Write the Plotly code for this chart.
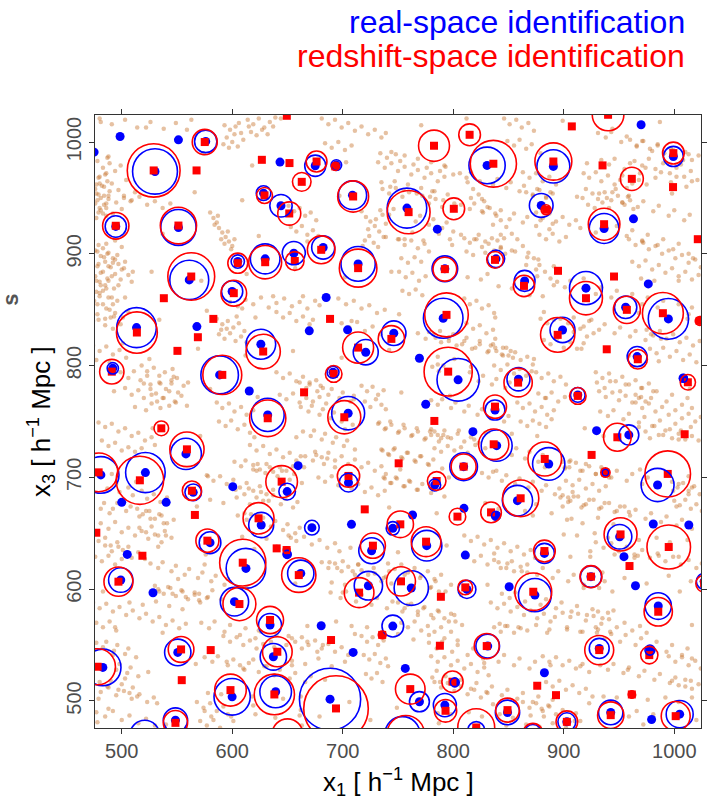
import math
import plotly.graph_objects as go

# ---------------- void catalogues ----------------
# real-space voids: centre x1, centre x3, radius (0 = centre only)
real_x = [498.5, 475.0, 551.3, 576.0, 530.1, 643.2, 675.1, 694.2, 628.3, 644.1, 708.8, 494.6, 551.3,
          561.1, 605.0, 629.8, 655.7, 682.3, 713.9, 599.9, 685.0, 568.0, 513.4, 669.7, 704.4, 625.9,
          720.8, 491.9, 588.6, 691.2, 615.4,
          830.6, 890.6, 970.0, 999.2, 758.1, 785.6, 879.6, 936.5, 963.1, 838.7, 792.4, 864.6, 920.1,
          976.5, 956.0, 994.7, 769.4, 804.4, 790.9, 898.9, 966.4, 1008.2, 859.0, 912.7, 775.1,
          632.1, 704.9, 558.1, 481.1, 521.4, 500.0, 540.2, 564.7, 600.5, 649.7, 705.2, 659.6, 707.9,
          672.1, 626.2, 579.9, 649.7, 612.4, 662.0, 499.1, 505.0, 528.3, 602.0, 723.2, 726.1, 634.2,
          680.5, 709.4, 550.7, 637.2, 482.9, 599.9, 639.3, 688.5, 548.6, 520.8,
          837.8, 817.8, 929.7, 958.9, 839.3, 809.4, 886.4, 937.7, 984.9, 783.2, 858.1, 838.7, 809.7,
          763.2, 776.0, 810.9, 882.5, 950.6, 981.0, 1013.2, 954.5, 924.6, 964.9, 1027.0, 762.0, 812.4,
          850.6, 873.9, 985.5, 831.2, 932.1, 978.0, 756.6, 882.5, 801.4, 769.4, 792.4, 849.1, 902.8,
          942.5, 979.5, 1004.9, 820.8, 872.1, 754.0, 745.3, 746.2, 745.3]
real_y = [1005.0, 991.0, 1002.0, 1000.6, 973.7, 982.1, 978.8, 979.4, 954.3, 943.0, 952.5, 924.5, 923.6,
          876.7, 893.1, 895.5, 900.6, 905.7, 891.0, 866.3, 860.9, 834.9, 834.0, 831.1, 832.0, 819.1,
          812.0, 797.6, 791.7, 794.1, 777.3,
          979.1, 978.2, 1015.5, 987.1, 940.9, 922.1, 943.3, 922.7, 931.3, 895.5, 886.6, 875.8, 869.3,
          873.1, 852.2, 841.8, 806.6, 787.3, 842.4, 831.9, 808.1, 788.7, 787.8, 773.8, 765.4,
          755.9, 757.4, 721.0, 702.2, 704.3, 677.7, 677.7, 686.6, 691.7, 687.3, 695.3, 710.5, 658.0,
          655.0, 657.4, 641.6, 631.1, 618.6, 614.1, 608.2, 631.1, 596.8, 588.8, 603.1, 634.4, 567.9,
          567.3, 543.4, 543.4, 539.5, 530.0, 503.7, 508.2, 501.6, 482.8, 469.4,
          760.3, 740.9, 741.8, 738.0, 728.4, 709.6, 712.0, 704.3, 693.2, 693.2, 679.2, 665.7, 672.3,
          666.4, 638.9, 630.5, 632.0, 646.9, 658.3, 657.4, 629.1, 611.2, 603.1, 607.0, 601.0, 599.8,
          602.2, 594.7, 584.9, 549.1, 547.0, 545.5, 529.1, 525.2, 516.6, 499.3, 496.3, 489.7, 481.3,
          489.7, 483.4, 488.2, 474.0, 470.9, 470.0, 567.0, 829.0, 654.4]
real_r = [0, 0, 0, 10.1, 20.3, 0, 9.5, 4.8, 6.6, 10.1, 12.8, 9.6, 16.0,
          17.6, 6.0, 13.4, 10.4, 10.4, 15.5, 9.6, 0, 0, 17.9, 0, 0, 13.4,
          11.3, 5.1, 17.0, 5.4, 0,
          16.4, 14.9, 0, 9.0, 17.9, 0, 10.7, 13.4, 0, 7.8, 11.6, 9.4, 14.9,
          0, 10.1, 18.2, 0, 19.1, 17.9, 11.3, 9.0, 3.6, 10.4, 6.6, 0,
          14.9, 14.9, 14.0, 16.4, 17.9, 0, 0, 7.5, 0, 7.5, 8.4, 0, 0,
          6.6, 11.3, 9.8, 3.6, 17.9, 11.9, 11.0, 0, 0, 12.8, 12.8, 11.6, 10.4,
          0, 0, 11.9, 11.9, 16.4, 16.4, 14.3, 27.7, 11.0, 13.4,
          9.0, 0, 0, 9.0, 14.0, 12.5, 14.6, 3.0, 14.9, 5.4, 13.7, 4.0, 0,
          0, 13.7, 0, 9.0, 11.0, 0, 0, 0, 9.6, 0, 7.0, 15.5, 8.1,
          0, 14.9, 11.9, 10.7, 9.0, 4.5, 0, 0, 4.0, 9.0, 10.4, 11.0, 8.1,
          11.0, 0, 12.2, 7.5, 8.0, 16.0, 9.8, 11.0, 6.0]

# redshift-space voids
zsp_x = [575.1, 528.9, 567.7, 626.8, 651.8, 676.3, 693.3, 662.9, 629.2, 651.6, 709.4, 494.6, 551.3,
         562.9, 605.0, 629.8, 656.6, 680.5, 713.9, 601.4, 538.1, 582.9, 688.5, 568.9, 550.4, 513.7,
         628.0, 713.9, 491.0, 591.0, 691.8, 665.0, 649.4,
         782.6, 814.8, 836.3, 890.6, 907.3, 940.1, 935.1, 999.2, 961.6, 998.9, 759.6, 800.5, 884.0,
         936.5, 1021.3, 837.8, 792.4, 864.0, 894.8, 945.5, 920.1, 957.1, 989.7, 1023.0, 795.4, 793.9,
         894.5, 938.9, 967.0, 1012.3, 858.7, 912.7,
         632.1, 701.4, 535.8, 559.0, 479.1, 516.4, 563.5, 566.2, 644.7, 705.2, 719.9, 623.8, 577.5,
         640.2, 649.2, 609.5, 660.2, 497.0, 518.7, 606.5, 714.8, 727.3, 634.2, 689.4, 553.7, 580.5,
         554.3, 640.8, 478.2, 598.4, 638.1, 693.9, 548.6, 650.0, 477.0, 735.7,
         837.8, 782.9, 948.5, 1009.4, 925.2, 836.6, 809.4, 882.8, 937.7, 994.1, 785.0, 861.0, 834.2,
         803.8, 752.1, 775.4, 882.5, 951.4, 995.0, 959.5, 924.6, 1027.0, 752.7, 810.9, 872.4, 788.8,
         985.5, 830.3, 787.9, 932.1, 977.4, 799.3, 876.0, 893.0, 961.6, 761.1, 793.0, 849.1, 902.8,
         942.5, 1001.3, 820.8, 872.1, 757.0, 750.6, 744.0]
zsp_y = [1000.0, 974.6, 974.6, 984.1, 981.2, 982.6, 978.2, 964.4, 952.2, 936.1, 951.3, 925.1, 925.3,
         879.7, 891.6, 892.5, 893.6, 903.6, 887.2, 864.8, 860.3, 841.8, 841.8, 825.4, 813.2, 829.6,
         812.6, 816.1, 794.6, 791.7, 792.6, 776.1, 1023.5,
         996.7, 1006.5, 980.6, 982.6, 1014.0, 1024.4, 979.1, 990.1, 967.1, 959.7, 937.3, 940.3, 939.4,
         926.5, 913.1, 894.6, 886.3, 871.3, 884.8, 879.7, 860.3, 849.9, 846.9, 840.0, 794.6, 845.4,
         827.5, 814.6, 805.7, 785.1, 784.8, 772.9,
         752.9, 753.8, 743.9, 725.1, 704.5, 697.4, 688.1, 666.4, 696.2, 701.3, 671.4, 663.4, 643.4,
         636.5, 635.0, 623.7, 612.6, 606.7, 629.9, 586.7, 596.9, 638.9, 572.4, 554.5, 546.1, 545.5,
         518.6, 544.0, 530.6, 509.7, 505.8, 493.3, 480.4, 470.0, 650.5, 559.1,
         763.3, 750.5, 735.9, 738.6, 720.1, 729.6, 709.6, 716.5, 704.3, 703.1, 696.8, 681.3, 668.7,
         664.9, 658.0, 642.5, 634.1, 649.0, 637.7, 620.7, 611.2, 605.0, 607.0, 601.6, 597.7, 593.2,
         579.8, 549.1, 549.4, 545.5, 541.0, 517.2, 513.6, 505.2, 505.8, 510.6, 491.2, 491.8, 481.3,
         487.3, 486.4, 476.3, 470.9, 470.0, 712.6, 823.9]
zsp_r = [11.3, 23.9, 0, 0, 0, 9.4, 3.6, 8.4, 7.2, 10.4, 14.0, 11.9, 16.4,
         21.2, 9.0, 14.9, 8.4, 12.5, 17.0, 11.6, 0, 0, 0, 0, 0, 18.5,
         15.5, 14.0, 11.0, 17.6, 7.5, 0, 0,
         14.0, 9.8, 20.9, 16.7, 0, 14.3, 0, 9.8, 10.4, 0, 19.4, 9.8, 4.5,
         14.3, 0, 7.5, 10.7, 9.6, 0, 0, 14.9, 12.2, 18.5, 4.0, 21.8, 19.7,
         15.5, 0, 8.7, 6.9, 12.8, 7.5,
         16.4, 14.9, 6.6, 15.5, 17.3, 21.5, 8.7, 0, 14.3, 10.1, 0, 14.0, 10.4,
         2.5, 3.0, 20.9, 15.5, 13.1, 0, 14.9, 13.4, 11.3, 12.2, 0, 11.6, 0,
         0, 13.4, 16.1, 14.3, 18.2, 29.2, 11.0, 14.0, 0, 3.5,
         10.4, 0, 12.5, 0, 0, 13.7, 11.3, 15.2, 4.2, 20.6, 8.4, 16.4, 9.3,
         7.5, 11.9, 13.4, 9.8, 14.9, 19.7, 0, 9.9, 7.5, 13.1, 6.6, 16.7, 0,
         12.8, 11.3, 0, 13.1, 7.8, 9.6, 0, 0, 3.3, 13.4, 10.1, 10.7, 9.8,
         11.9, 13.1, 16.7, 9.0, 17.0, 0, 11.9]

# ---------------- tracer particles (x1,x3 pairs) ----------------
sparse_field = """
481,1018 522,1013 563,1020 644,1021 771,1015 812,1021 899,1019 944,1012 987,1018
488,987 574,990 618,979 703,982 748,989 793,978 879,990 921,981 1006,980
479,953 566,955 609,948 697,952 781,956 826,949 912,951 953,946 998,954
494,912 537,918 624,916 668,911 756,913 799,908 843,917 929,919 972,910
527,884 572,876 613,882 657,887 702,879 744,884 831,882 875,886 918,878 1004,876
534,841 577,849 621,843 708,840 751,846 838,843 882,848 925,841 968,847 1012,842
525,806 569,815 612,809 655,813 699,807 742,814 786,808 873,806 916,815 959,809
493,777 580,779 623,772 710,770 753,776 797,773 884,771 970,772 1014,779
528,744 571,737 658,736 702,743 789,735 832,741 876,737 919,744 1006,742
491,703 578,701 622,706 665,709 752,707 796,700 839,706 883,709 969,707 1013,701
481,672 568,674 611,668 742,673 785,668 872,666 916,673 959,669 1002,674
533,638 576,631 620,636 707,637 750,633 794,639 837,632 924,634 967,630
483,598 570,596 613,601 657,605 700,597 787,598 831,604 874,596 918,601 1005,598
494,566 537,561 624,563 668,567 711,560 798,562 842,569 885,561 929,566 1016,568
480,531 524,526 567,533 611,528 654,532 741,531 785,527 828,534 915,531 958,528
488,493 532,498 575,491 619,496 662,492 706,499 749,494 836,497 880,493 923,498 966,491
478,481 540,479 601,482 663,478 725,483 787,480 848,478 910,482 972,479 1020,483
"""

web_west = """
477,932 483,936 480,941 486,945 478,948 484,952 489,956 476,958 482,961 487,965 479,968 485,971 481,939 488,949 477,954 484,944 480,963 486,934
474,912 479,908 483,905 476,903 488,901 481,898 492,896 485,893 497,891 478,889 490,888 502,887 483,884 494,882 506,881 476,880 487,878 499,877 509,875 480,875 492,892 503,893 473,896 486,909 496,899 510,884 500,906
474,878 481,872 477,866 486,869 491,861 475,858 483,855 489,850 478,846 485,842 493,844 474,840 480,862 488,876 492,855
593,1015 598,1011 603,1014 608,1008 595,1004 600,1000 605,996 610,1002 597,995 602,1007 606,1017 592,998
614,1020 619,1016 624,1021 629,1013 634,1018 617,1009 622,1006 627,1011 632,1007 637,1014 615,1014 639,1022
580,937 583,932 586,928 588,923 591,919 594,915 597,911 600,907 584,926 590,913 596,920 599,904 587,934 593,909 602,913
717,938 721,933 725,929 729,925 733,920 737,915 720,912 724,916 728,910 732,906 736,935 739,927 723,922 730,931 718,907
598,857 605,853 612,859 619,855 626,861 633,852 640,856 647,860 654,853 661,857 668,851 675,858 679,854 609,851 637,862 664,862
586,842 591,837 596,840 601,834 606,838 611,831 588,828 593,824 598,829 603,822 608,826 613,821 595,833 604,844 590,832
518,800 523,795 529,798 534,791 539,794 545,787 550,789 556,782 560,785 520,784 526,779 531,775 537,771 543,777 548,768 554,773 559,764 535,784 546,797 527,766
717,782 722,777 727,781 732,774 737,778 720,768 725,763 730,770 735,765 739,761
696,860 703,855 710,858 717,851 724,854 731,847 738,850 699,838 706,834 713,839 720,831 727,835 734,828
651,943 656,938 661,941 666,934 671,937 676,930 653,924 658,920 663,925 668,917 673,921 678,916
640,794 646,789 652,793 658,786 664,790 670,783 676,787 682,780 643,774 649,770 655,775 661,767 667,771 673,768 679,772 685,766
681,1021 687,1016 693,1020 699,1013 705,1017 711,1010 717,1014 723,1007 729,1011 735,1004 739,1008 684,999 690,995 696,1000 702,993 708,997
502,952 509,948 516,951 523,944 530,947 537,941 544,945
480,1021 491,1016 503,1020 514,1013 526,1018 538,1012 549,1017 559,1011
640,848 646,843 652,847 658,840 664,844 670,837 673,841
474,818 480,813 486,817 492,810 498,814 504,807 477,805 489,803 501,820
478,983 483,977 489,981 486,972 480,969 494,974 491,963 484,960 497,957 488,952 481,950 495,946 502,950 486,941 479,937 492,936 500,940 508,947 477,962 512,955 504,966 487,986 499,979 476,945
478,902 484,897 479,891 488,889 481,883 491,880 477,876 485,872 493,869 480,865 488,861 496,858 478,855 486,851 494,847 501,843 479,841 485,836 492,833 499,837 506,848 503,861 497,872 500,886 494,895 487,900 483,867 490,843
499,794 506,789 511,795 517,787 523,791 526,783 534,785 540,779 545,784 551,776 503,780 509,774 515,778 520,771 527,774 532,768 538,771 543,764 549,767 512,763 522,760 535,762 547,790
"""

web_east = """
918,972 923,968 929,973 934,965 940,970 946,962 951,966 957,959 962,963 920,958 926,954 931,949 937,955 943,948 949,952 955,944 960,948 922,944 928,941 935,946 941,941 947,958 953,970 959,952 963,940 917,950
960,1002 966,997 972,1001 978,994 985,998 991,990 997,994 1004,987 1010,991 1016,984 1022,988 964,983 971,979 977,985 983,976 990,981 996,972 1002,977 1009,969 1015,974 1021,966 968,966 975,962
810,914 815,910 821,913 826,906 832,909 837,903 843,906 847,900 812,902 818,899 829,901 840,912 823,917 835,914
959,913 965,908 971,911 977,904 983,907 989,900 995,903 1001,896 1007,899 1013,892 1019,895 1024,888 962,893 968,889 974,894 980,886 986,890 992,883 998,887 1004,880 1010,884 1016,877 1022,881 970,878 982,876
975,832 981,827 987,831 993,824 999,828 1005,821 1011,825 1017,818 1023,822 978,815 984,811 990,816 996,808 1002,813 1008,805 1014,810 1020,803 986,804
879,842 885,838 891,841 897,834 903,837 909,830 915,833 921,826 927,829 882,823 888,819 894,824 900,816 906,821 912,815 918,820
834,818 839,813 845,816 850,809 856,812 861,805 867,808 872,801 837,800 843,796 849,801 855,793 860,797 866,791 871,795
929,794 935,789 941,793 947,786 953,790 959,783 965,787 971,780 977,784 981,777 932,777 938,772 944,776 950,769 956,773 962,767 968,771 974,768
846,1021 851,1016 857,1020 862,1013 868,1017 873,1010 849,1001 855,997 860,1002 866,994 871,998
875,937 881,932 887,936 893,929 899,933 905,926 911,930 915,923 878,917 884,913 890,918 896,911 902,915
810,860 815,855 821,858 826,851 832,854 837,847 812,838 818,833 824,836 830,829 836,832 838,824
875,794 880,789 886,793 891,786 897,790 902,783 877,775 883,771 889,776 895,768 901,772
863,973 869,968 875,972 881,965 887,969 893,962 897,966 866,955 872,952 878,957 884,951 890,954
750,913 756,908 762,912 768,905 774,909 778,902 753,896 759,892 765,897 771,893
751,884 757,879 763,883 769,876 775,880 754,867 760,864 766,868 772,863
732,982 738,977 744,981 750,974 756,978 762,971 768,975 774,968 780,972 786,965 792,969 736,958 742,954 748,959 754,951 760,955 766,948 772,952 778,945 784,949 790,942
813,964 818,958 823,953 828,947 833,941 838,936 843,930 848,924 853,918 858,913 863,907 868,901 873,896 878,890 883,884 888,878 891,872 816,950 826,938 836,926 846,914 856,902 866,890 876,880
768,829 775,824 782,828 789,821 796,825 803,818 810,822 817,815 824,819 831,812 838,816 845,809 852,813 771,805 786,801 801,806 816,799
734,990 740,986 744,991 752,983 756,988 764,980 768,985 776,977 780,982 788,974 792,979 800,971 735,964 743,960 747,965 755,957 759,962 767,954 771,959 779,951 783,956 791,948 795,953 801,945 734,939 742,935 746,940 754,932 758,937 766,929 770,934 778,926 782,931 790,923 794,928 800,920 739,915 751,913 763,919 773,912 787,918 797,913
806,972 812,968 816,973 824,965 828,970 836,962 840,967 848,959 852,964 860,956 864,961 872,953 876,958 884,950 888,955 807,944 815,940 819,945 827,937 831,942 839,934 843,939 851,931 855,936 863,928 867,933 875,925 879,930 887,922 890,927 807,917 819,913 829,911 843,905 853,903 867,897 877,895 891,889 813,879 825,877 841,871 853,869 869,863 881,862
931,1008 938,1004 943,1009 952,1000 957,1005 966,996 971,1001 980,992 985,997 994,988 999,993 1008,984 1013,989 934,984 941,980 946,985 955,976 960,981 969,972 974,977 983,968 988,973 997,964 1002,969 1011,960 1016,965 932,954 939,950 944,955 953,946 958,951 967,942 972,947 981,938 986,943 995,934 1000,939 1009,930 1014,935 936,924 943,920 948,925 957,916 962,921 971,912 976,917 985,908 990,913 999,904 1004,909 1013,900 1017,896
894,875 901,870 906,876 915,867 920,873 929,864 934,870 943,861 948,867 957,858 962,864 971,855 976,861 985,852 990,858 999,849 1004,855 1013,846 1016,852 897,842 904,838 909,843 918,835 923,840 932,832 937,837 946,829 951,834 960,826 965,831 974,823 979,828 988,824
930,785 937,780 942,786 951,777 956,783 965,774 970,780 979,771 984,777 993,768 998,774 1007,765 1012,771 1016,762 933,759 940,755 945,760 954,752 959,757 968,749 973,754 982,746 987,751 996,743 1001,748 1010,740 1015,745 936,737 950,734 962,740 978,735 990,738 1004,734
778,830 784,825 788,831 796,822 800,828 808,819 812,825 820,816 824,822 832,813 836,819 844,810 848,816 854,807 781,799 787,795 791,800 799,792 803,797 811,789 815,794 823,786 827,791 835,783 839,788 847,780 851,785 780,769 786,765 790,770 798,762 802,767 810,759 814,764 822,756 826,761 834,753 838,758 846,750 850,755 783,741 795,736 805,742 819,734 829,740 843,735 853,739
"""

web_south = """
479,749 485,745 491,748 497,741 503,744 509,737 515,740 521,733 527,736 530,729 482,733 488,728 494,731 500,724 506,727 512,723 518,726
514,672 519,667 525,670 530,663 536,666 541,659 547,662 516,655 522,651 527,656 533,648 539,652 545,646
474,648 479,643 485,646 490,639 496,642 501,635 506,638 476,629 482,625 488,630 494,622 500,627
474,588 480,583 486,587 492,580 498,584 504,577 510,581 516,574 522,578 528,571 534,575 540,568 546,572 552,565 558,569 477,570 483,566 489,571 495,563 507,588 519,586 531,589 543,585 555,582
533,600 538,596 544,601 549,594 555,598 560,591 566,595 571,588 577,592
586,767 591,762 597,766 602,759 608,763 613,756 619,760 588,750 594,746 599,751 605,743 611,747 616,740 620,736
616,729 622,724 628,728 634,721 640,725 646,718 652,722 658,715 662,719 619,711 625,707 631,712 637,705 643,709 649,706 655,710
675,723 681,718 687,722 693,715 699,719 705,712 711,716 717,709 723,713 729,706 735,710 739,703 678,700 684,696 690,701 696,693 702,697 708,690 714,694 720,687 726,691 732,684 738,688
681,624 687,619 693,623 699,616 705,620 711,613 717,617 723,610 729,614 735,607 739,611 690,606 702,604 714,622
717,558 722,553 727,557 732,550 737,554 719,541 724,537 729,542 734,534 739,538 721,524 726,520 731,525 736,517
474,514 481,508 488,512 495,505 502,509 509,502 516,506 523,499 529,503 477,490 485,486 492,491 500,483 507,487 515,480 522,484 530,478
651,558 657,553 663,557 669,550 675,554 681,547 687,551 693,544 699,548 705,541 709,545 654,536 666,533 678,538 690,531 702,535
577,702 583,697 589,701 595,694 601,698 607,691 613,695 619,688 625,692 631,685 637,689 580,680 592,677 604,682 616,676 628,679
568,499 574,494 580,498 586,491 592,495 596,488 571,482 577,478 583,483 589,476
592,558 598,553 604,557 610,550 616,554 622,547 628,551 634,544 638,548 595,535 607,532 619,537 631,531
651,648 658,643 665,647 672,640 679,644 686,637 693,641 697,634
482,696 487,690 495,694 498,687 506,691 510,684 518,688 523,681 529,685 535,678 541,682 484,677 492,672 496,677 504,670 508,674 516,665 522,670 526,663 534,667 538,659 481,659 488,654 494,660 500,651 506,655 512,648 518,652 524,645 530,649 536,642 540,648 485,639 491,634 497,638 503,631 509,628 515,633 521,627 489,668 513,696
526,623 533,619 537,624 545,616 549,621 557,613 561,618 569,610 573,615 581,607 585,612 593,604 596,609 530,603 534,598 542,602 546,596 554,599 558,593 566,597 570,590 578,593 582,599 590,591 551,609 575,622
477,552 483,548 486,553 493,545 496,550 503,542 506,547 513,539 478,535 485,531 488,536 495,528 498,533 505,525 508,530 515,522 480,517 487,513 490,518 497,510 500,515 507,507 510,512 514,504 479,502 492,541 503,520
602,714 608,710 612,715 619,707 623,712 630,704 634,709 641,701 645,706 652,698 656,703 663,695 603,689 611,685 615,690 622,682 626,687 633,679 637,684 644,676 648,681 655,673 659,678 605,666 613,662 617,667 624,659 628,664 635,656 639,661 646,653 650,658 657,650 661,655 609,647 631,645 653,646
661,785 667,780 670,785 677,777 680,782 687,774 690,779 697,771 700,776 707,768 710,773 662,763 669,759 672,764 679,756 682,761 689,753 692,758 699,750 702,755 709,747 711,752 664,741 671,737 674,742 681,734 684,739 691,731 694,736 701,728 704,733 711,725 666,719 673,715 676,720 683,712 686,717 693,709
572,570 579,565 584,571 593,562 598,568 607,559 612,565 621,556 626,562 635,553 640,559 649,550 654,556 663,547 668,553 677,544 682,550 575,539 582,535 587,540 596,532 601,537 610,529 615,534 624,526 629,531 638,523 643,528 652,520 657,525 666,517 671,522 680,514 684,519 578,507 590,506 606,508 618,504 634,506 646,502 662,504 674,500 684,503 581,486 599,486 621,488 639,485 661,487 679,486
"""

web_southeast = """
858,767 863,762 869,766 874,759 880,763 885,756 891,760 861,750 867,746 872,751 878,748 884,745 889,752
780,743 786,738 792,742 798,735 804,739 810,732 816,736 820,729 783,726 789,723 795,728 801,724 807,727 813,722
899,714 905,709 911,713 917,706 923,710 929,703 935,707 941,700 902,697 908,693 914,698 920,690 926,694 932,688 938,692
965,767 971,762 977,766 983,759 989,763 995,756 1001,760 1007,753 1013,757 1019,750 1024,754 968,745 974,741 980,746 986,738 992,742 998,735 1004,739 1010,734 1016,737 1022,733
810,648 816,643 822,647 828,640 834,644 840,637 846,641 852,634 858,638 864,631 870,635 874,628 813,629 819,625 825,630 831,622 837,626 843,619 849,623 855,616 861,620 867,615
750,588 756,583 762,587 768,580 774,584 780,577 786,581 792,574 798,578 802,571 753,570 759,566 765,571 771,563 777,567 783,562 789,566
834,588 840,583 846,587 852,580 858,584 864,577 870,581 876,574 882,578 888,571 892,575 837,566 843,562 849,567 855,561 861,565 867,563
899,579 906,575 913,578 920,572 927,576 934,569 941,573 948,566 955,570 962,563 969,567 975,561 903,564 917,562 931,580 945,581
998,696 1003,691 1008,695 1013,688 1018,692 1023,685 1000,679 1005,675 1010,680 1015,672 1020,676 1025,670
780,540 786,535 792,539 798,532 804,536 810,529 816,533 822,526 828,530 832,523 783,517 789,512 795,516 801,509 807,513 813,506 819,510 825,503 831,507
929,642 936,637 943,641 950,634 957,638 964,631 971,635 978,628 985,632 992,625 999,629 1006,622 1013,626 1020,619 1025,623 935,615 955,610 975,605 995,612 1015,607
881,540 887,535 893,539 899,532 905,536 911,529 917,533 923,526 884,517 890,513 896,518 902,510 908,514 914,507 920,511 926,504
995,540 1001,535 1007,539 1013,532 1019,536 1024,529 998,518 1004,514 1010,519 1016,511 1022,515
899,684 906,679 913,683 920,676 927,680 934,673 941,677 948,670 955,674 903,662 917,659 931,664 945,658
863,499 869,494 875,498 881,491 887,495 893,488 899,492 905,485 911,489 915,482 866,479 878,477 890,480 902,476
741,623 747,618 753,622 759,615 765,619 771,612 777,616 783,609 789,613 744,605 756,603 768,607 780,602
732,748 738,743 744,747 750,740 756,744 762,737 768,741 774,734 780,738 735,725 741,721 747,726 753,718 759,722 765,715 771,719 777,712 737,700 743,695 749,699 755,692 761,696 767,689
823,731 829,726 833,732 841,723 845,729 853,720 857,726 865,717 869,723 877,714 881,720 889,711 893,717 901,708 905,714 826,704 832,700 836,705 844,697 848,702 856,694 860,699 868,691 872,696 880,688 884,693 892,685 896,690 904,682 908,687 829,677 841,672 851,678 865,670 875,676 889,668 899,674 907,663
894,714 901,709 906,715 915,706 920,712 929,703 934,709 943,700 948,706 957,697 962,703 971,694 976,700 985,691 990,697 999,688 1004,694 1013,685 1016,691 897,682 904,678 909,683 918,675 923,680 932,672 937,677 946,669 951,674 960,666 965,671 974,663 979,668 988,660 993,665 1002,657 1007,662 1016,654 900,649 912,648 928,650 940,646 956,648 968,644 984,646 996,642 1012,644 906,629 924,629 946,631 964,628 986,630 1004,629
733,749 739,744 743,750 751,741 755,747 763,738 767,744 775,735 779,741 787,732 791,738 736,724 742,720 746,725 754,717 758,722 766,714 770,719 778,711 782,716 790,708 738,699 744,695 748,700 756,692 760,697 768,689 772,694 780,686 784,691 792,683
688,624 695,619 700,625 709,616 714,622 723,613 728,619 737,610 742,616 751,607 756,613 765,604 770,610 779,601 784,607 793,598 798,604 807,595 810,601 689,597 698,592 703,598 712,589 717,595 726,586 731,592 740,583 745,589 754,580 759,586 768,577 773,583 782,574 787,580 796,571 801,577 808,568 694,571 708,567 722,566 736,561 750,560 764,555 778,559 792,556 804,554
841,624 848,619 853,625 862,616 867,622 876,613 881,619 890,610 895,616 904,607 909,613 918,604 923,610 932,601 937,607 944,598 844,596 851,592 856,597 865,589 870,594 879,586 884,591 893,583 898,588 907,580 912,585 921,577 926,582 935,574 940,579 847,567 859,566 875,568 887,564 903,566 915,562 931,564 943,560
930,561 937,556 942,562 951,553 956,559 965,550 970,556 979,547 984,553 993,544 998,550 1007,541 1012,547 1016,538 933,532 940,528 945,533 954,525 959,530 968,522 973,527 982,519 987,524 996,516 1001,521 1010,513 1015,518 936,504 948,503 964,505 976,501 992,503 1004,499 1016,503 941,486 959,486 981,488 999,485
778,552 785,547 790,553 799,544 804,550 813,541 818,547 827,538 832,544 841,535 846,541 855,532 860,538 869,529 874,535 883,526 888,532 781,521 788,517 793,522 802,514 807,519 816,511 821,516 830,508 835,513 844,505 849,510 858,502 863,507 872,499 877,504 886,496 890,501 786,489 798,488 814,490 826,486 842,488 854,485 870,487 882,486
"""


def parse_pairs(block):
    xs, ys = [], []
    for tok in block.split():
        a, b = tok.split(",")
        xs.append(float(a))
        ys.append(float(b))
    return xs, ys


# large real-space voids are nearly empty: web tracers are kept outside their inner core
void_cores = [(cx, cy, r) for cx, cy, r in zip(real_x, real_y, real_r) if r >= 8]


def outside_cores(x, y):
    for cx, cy, r in void_cores:
        if math.hypot(x - cx, y - cy) < 0.6 * r:
            return False
    return True


part_x, part_y = parse_pairs(sparse_field)
for blk in (web_west, web_east, web_south, web_southeast):
    for x, y in zip(*parse_pairs(blk)):
        if outside_cores(x, y):
            part_x.append(x)
            part_y.append(y)

X_RANGE = [475.8, 1024.2]
Y_RANGE = [475.8, 1024.2]
TICKS = [500, 600, 700, 800, 900, 1000]
BLUE = "#0000FF"
RED = "#FF0000"
FONT = "Liberation Sans, Arial, sans-serif"

fig = go.Figure()

# tracer particles
fig.add_trace(go.Scatter(
    x=part_x, y=part_y, mode="markers",
    marker=dict(size=4.5, color="rgba(200,118,48,0.45)", line=dict(width=0)),
    hoverinfo="skip", showlegend=False))

# void spheres as circles in data coordinates
shapes = []
for xs, ys, rs, col in ((real_x, real_y, real_r, BLUE), (zsp_x, zsp_y, zsp_r, RED)):
    for cx, cy, r in zip(xs, ys, rs):
        if r > 0:
            shapes.append(dict(type="circle", xref="x", yref="y",
                               x0=cx - r, x1=cx + r, y0=cy - r, y1=cy + r,
                               line=dict(color=col, width=1.6), layer="above"))

# void centres
fig.add_trace(go.Scatter(x=real_x, y=real_y, mode="markers",
                         marker=dict(symbol="circle", size=9, color=BLUE, line=dict(width=0)),
                         showlegend=False))
fig.add_trace(go.Scatter(x=zsp_x, y=zsp_y, mode="markers",
                         marker=dict(symbol="square", size=8, color=RED, line=dict(width=0)),
                         showlegend=False))

axis_common = dict(
    showgrid=False, zeroline=False, showline=True, linecolor="#333333", linewidth=1.3,
    mirror="ticks", ticks="outside", ticklen=5, tickwidth=1.3, tickcolor="#333333",
    tickvals=TICKS, tickfont=dict(family=FONT, size=20, color="#4D4D4D"),
)

W, H = 716, 802
L, R, T, B = 95, 9, 115, 74
plot_h = H - T - B


def py_to_paper(py):
    return (H - B - py) / plot_h


def px_to_paper(px):
    return (px - L) / (W - L - R)


annotations = [
    dict(text="real-space identification", x=px_to_paper(693), y=py_to_paper(22),
         xref="paper", yref="paper", xanchor="right", yanchor="middle", showarrow=False,
         font=dict(family=FONT, size=32, color=BLUE)),
    dict(text="redshift-space identification", x=px_to_paper(693), y=py_to_paper(56),
         xref="paper", yref="paper", xanchor="right", yanchor="middle", showarrow=False,
         font=dict(family=FONT, size=32, color=RED)),
    dict(text="x<sub>1</sub> [ h<sup>−1</sup> Mpc ]", x=0.5, y=py_to_paper(782),
         xref="paper", yref="paper", xanchor="center", yanchor="middle", showarrow=False,
         font=dict(family=FONT, size=26, color="#000000")),
    dict(text="x<sub>3</sub> [ h<sup>−1</sup> Mpc ]", x=px_to_paper(40), y=0.5,
         xref="paper", yref="paper", xanchor="center", yanchor="middle", showarrow=False,
         textangle=-90, font=dict(family=FONT, size=26, color="#000000")),
    dict(text="<b>s</b>", x=px_to_paper(9), y=py_to_paper(300),
         xref="paper", yref="paper", xanchor="center", yanchor="middle", showarrow=False,
         textangle=-90, font=dict(family=FONT, size=22, color="#555555")),
]

fig.update_layout(
    width=W, height=H, margin=dict(l=L, r=R, t=T, b=B, pad=0),
    paper_bgcolor="white", plot_bgcolor="white",
    xaxis=dict(range=X_RANGE, **axis_common),
    yaxis=dict(range=Y_RANGE, tickangle=-90, **axis_common),
    shapes=shapes, annotations=annotations, showlegend=False,
)

fig.write_html("out.html")
